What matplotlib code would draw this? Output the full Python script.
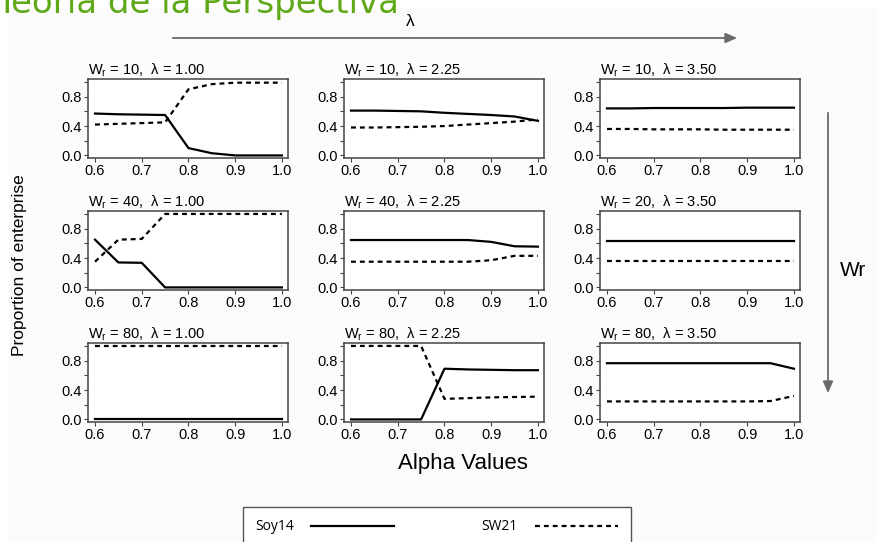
import matplotlib
matplotlib.use("Agg")
import matplotlib.pyplot as plt
from matplotlib.ticker import FixedLocator
from matplotlib.patches import Rectangle

plt.rcParams["font.family"] = ["Liberation Sans", "DejaVu Sans"]

# alpha values on the x axis
alpha = [0.60, 0.65, 0.70, 0.75, 0.80, 0.85, 0.90, 0.95, 1.00]

# panel labels: rows are W_r, columns are lambda
wr_labels = [["10", "10", "10"], ["40", "40", "20"], ["80", "80", "80"]]
lambda_labels = ["1.00", "2.25", "3.50"]

# proportion of enterprise, Soy14 (solid) and SW21 (dashed)
soy_10_100 = [0.57, 0.56, 0.555, 0.55, 0.10, 0.03, 0.0, 0.0, 0.0]
sw_10_100 = [0.42, 0.43, 0.44, 0.45, 0.90, 0.97, 0.99, 0.99, 0.99]
soy_10_225 = [0.61, 0.61, 0.605, 0.60, 0.58, 0.565, 0.55, 0.53, 0.47]
sw_10_225 = [0.38, 0.38, 0.385, 0.39, 0.40, 0.42, 0.44, 0.46, 0.49]
soy_10_350 = [0.64, 0.64, 0.645, 0.645, 0.645, 0.645, 0.65, 0.65, 0.65]
sw_10_350 = [0.36, 0.36, 0.355, 0.355, 0.355, 0.35, 0.35, 0.35, 0.35]

soy_40_100 = [0.65, 0.34, 0.335, 0.0, 0.0, 0.0, 0.0, 0.0, 0.0]
sw_40_100 = [0.35, 0.65, 0.66, 1.0, 1.0, 1.0, 1.0, 1.0, 1.0]
soy_40_225 = [0.645, 0.645, 0.645, 0.645, 0.645, 0.645, 0.62, 0.56, 0.555]
sw_40_225 = [0.35, 0.35, 0.35, 0.35, 0.35, 0.35, 0.37, 0.43, 0.43]
soy_20_350 = [0.63, 0.63, 0.63, 0.63, 0.63, 0.63, 0.63, 0.63, 0.63]
sw_20_350 = [0.36, 0.36, 0.36, 0.36, 0.36, 0.36, 0.36, 0.36, 0.36]

soy_80_100 = [0.0, 0.0, 0.0, 0.0, 0.0, 0.0, 0.0, 0.0, 0.0]
sw_80_100 = [1.0, 1.0, 1.0, 1.0, 1.0, 1.0, 1.0, 1.0, 1.0]
soy_80_225 = [0.0, 0.0, 0.0, 0.0, 0.69, 0.68, 0.675, 0.67, 0.67]
sw_80_225 = [1.0, 1.0, 1.0, 1.0, 0.28, 0.29, 0.30, 0.305, 0.31]
soy_80_350 = [0.765, 0.765, 0.765, 0.765, 0.765, 0.765, 0.765, 0.765, 0.69]
sw_80_350 = [0.245, 0.245, 0.245, 0.245, 0.245, 0.245, 0.245, 0.25, 0.32]

soy14 = [[soy_10_100, soy_10_225, soy_10_350],
         [soy_40_100, soy_40_225, soy_20_350],
         [soy_80_100, soy_80_225, soy_80_350]]
sw21 = [[sw_10_100, sw_10_225, sw_10_350],
        [sw_40_100, sw_40_225, sw_20_350],
        [sw_80_100, sw_80_225, sw_80_350]]

W, H = 878, 542
fig = plt.figure(figsize=(W / 100, H / 100), dpi=100)
fig.patch.set_facecolor("white")

# overlay in pixel coordinates for slide decorations
over = fig.add_axes([0, 0, 1, 1], zorder=-1)
over.set_xlim(0, W)
over.set_ylim(H, 0)
over.axis("off")
over.add_patch(Rectangle((9, 8), W, H, facecolor="#fbfbfb", edgecolor="none"))
# slide title, its top is cut off by the screenshot as in the original
over.text(-4, 13, "Teoría de la Perspectiva", color="#5fa818", fontsize=24.5,
          va="baseline", ha="left", family=["DejaVu Sans"])

arrow_kw = dict(arrowstyle="-|>,head_length=0.7,head_width=0.3", color="#6a6a6a", lw=1.3)
over.annotate("", xy=(740, 38), xytext=(170, 38), arrowprops=arrow_kw)
over.annotate("", xy=(828, 396), xytext=(828, 110), arrowprops=arrow_kw)
over.text(410, 21, "λ", fontsize=12.5, ha="center", va="center")
over.text(853, 270, "Wr", fontsize=15, ha="center", va="center")
over.text(20, 265, "Proportion of enterprise", fontsize=12.5, rotation=90,
          ha="center", va="center")
over.text(463, 464, "Alpha Values", fontsize=16, ha="center", va="center")

col_left = [88, 344, 600]
row_top = [79, 211, 343]
ax_w, ax_h = 200, 79

lines = None
for r in range(3):
    for c in range(3):
        ax = fig.add_axes([col_left[c] / W, 1 - (row_top[r] + ax_h) / H, ax_w / W, ax_h / H])
        l1, = ax.plot(alpha, soy14[r][c], color="black", lw=1.6, label="Soy14")
        l2, = ax.plot(alpha, sw21[r][c], color="black", lw=1.6, ls=(0, (2.2, 1.8)), label="SW21")
        lines = [l1, l2]
        ax.set_xlim(0.585, 1.013)
        ax.set_ylim(-0.035, 1.04)
        ax.set_xticks([0.6, 0.7, 0.8, 0.9, 1.0])
        ax.set_xticklabels(["0.6", "0.7", "0.8", "0.9", "1.0"])
        ax.set_yticks([0.0, 0.4, 0.8])
        ax.set_yticklabels(["0.0", "0.4", "0.8"])
        ax.yaxis.set_minor_locator(FixedLocator([0.2, 0.6, 1.0]))
        ax.tick_params(which="both", direction="out", length=3, width=0.8,
                       color="#444444", labelsize=10.5, pad=1.5)
        for s in ax.spines.values():
            s.set_color("#444444")
            s.set_linewidth(1.1)
        ax.set_title("W$_\\mathregular{r}$ = %s,  λ = %s" % (wr_labels[r][c], lambda_labels[c]),
                     loc="left", fontsize=10.5, pad=3)

fig.legend(lines, ["Soy14", "SW21"], ncol=2, markerfirst=False,
           loc="upper left", bbox_to_anchor=(243 / W, 1 - 507 / H), borderaxespad=0,
           frameon=True, fancybox=False, edgecolor="#555555", framealpha=1,
           handlelength=6.0, handletextpad=1.2, columnspacing=6.3, borderpad=0.9,
           prop={"family": "Open Sans", "size": 10})

fig.savefig("out.png", dpi=100)
